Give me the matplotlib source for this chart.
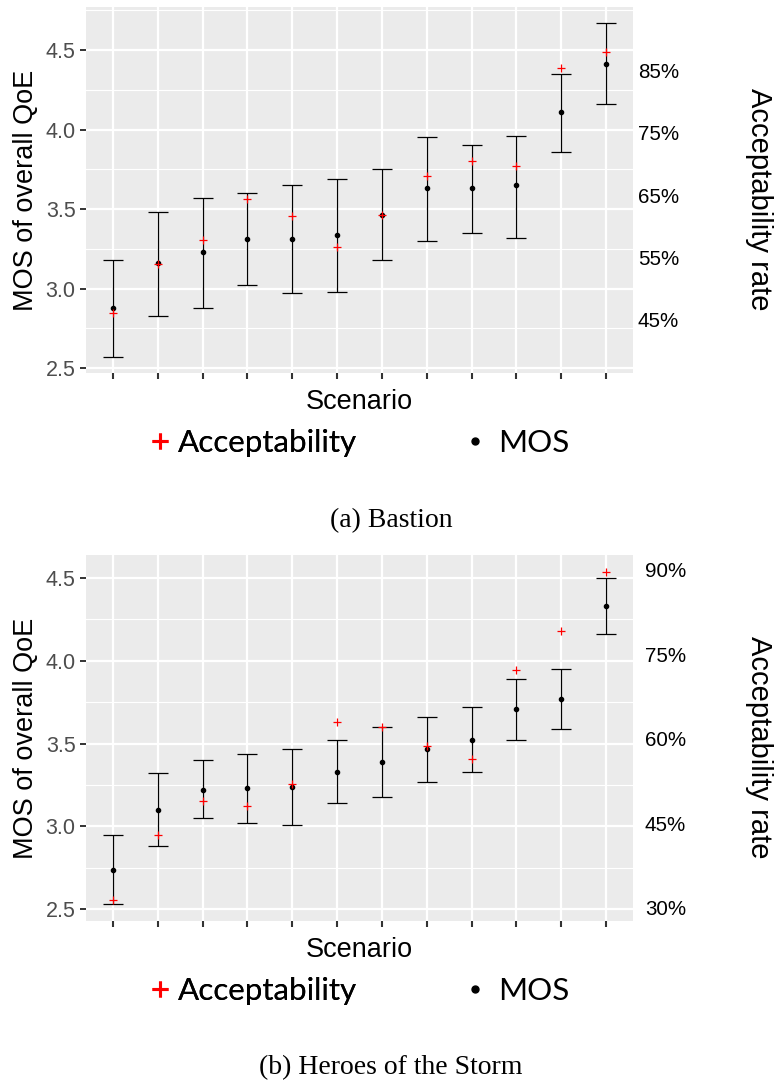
import matplotlib.pyplot as plt
import numpy as np
from matplotlib.lines import Line2D

scenarios = np.arange(1, 13)

# (a) Bastion
mos_a = [2.88, 3.16, 3.23, 3.31, 3.31, 3.34, 3.46, 3.63, 3.63, 3.65, 4.11, 4.41]
lo_a = [2.57, 2.83, 2.88, 3.02, 2.97, 2.98, 3.18, 3.30, 3.35, 3.32, 3.86, 4.16]
hi_a = [3.18, 3.48, 3.57, 3.60, 3.65, 3.69, 3.75, 3.95, 3.90, 3.96, 4.35, 4.67]
acc_a = [46.1, 53.9, 57.7, 64.3, 61.7, 56.6, 61.8, 68.1, 70.4, 69.6, 85.4, 88.0]
acc_ticks_a = [45, 55, 65, 75, 85]

# (b) Heroes of the Storm
mos_b = [2.74, 3.10, 3.22, 3.23, 3.24, 3.33, 3.39, 3.47, 3.52, 3.71, 3.77, 4.33]
lo_b = [2.53, 2.88, 3.05, 3.02, 3.01, 3.14, 3.18, 3.27, 3.33, 3.52, 3.59, 4.16]
hi_b = [2.95, 3.32, 3.40, 3.44, 3.47, 3.52, 3.60, 3.66, 3.72, 3.89, 3.95, 4.50]
acc_b = [31.4, 42.9, 49.0, 48.1, 51.9, 62.9, 62.0, 58.6, 56.4, 72.1, 79.0, 89.6]
acc_ticks_b = [30, 45, 60, 75, 90]

fig = plt.figure(figsize=(7.74, 10.84), dpi=100)
W, H = 774, 1084


def panel(top, ylim, mos, lo, hi, acc, acc_ticks, scale, offset, rpad, caption, cap_y):
    ax = fig.add_axes([86 / W, 1 - (top + 366) / H, 547 / W, 366 / H])
    ax.set_facecolor('#EBEBEB')
    for s in ax.spines.values():
        s.set_visible(False)
    ax.set_xticks(scenarios)
    ax.set_xticklabels([])
    ax.set_yticks([2.5, 3.0, 3.5, 4.0, 4.5])
    ax.set_yticks(np.arange(2.25, 5.0, 0.5), minor=True)
    ax.set_xlim(0.4, 12.6)
    ax.set_ylim(*ylim)
    ax.grid(True, which='major', color='white', lw=1.6)
    ax.grid(True, which='minor', axis='y', color='white', lw=0.8)
    ax.set_axisbelow(True)
    ax.tick_params(axis='y', which='major', length=4.5, width=1.4, color='#333333',
                   labelcolor='#4D4D4D', labelsize=15.5, pad=3)
    ax.tick_params(axis='y', which='minor', length=0)
    ax.tick_params(axis='x', length=4, width=1.5, color='#333333')
    for lab in ax.get_yticklabels():
        lab.set_fontfamily('Liberation Sans')

    mos = np.array(mos)
    ax.errorbar(scenarios, mos, yerr=[mos - np.array(lo), np.array(hi) - mos], fmt='none',
                ecolor='black', elinewidth=0.9, capsize=7, capthick=0.9, zorder=3)
    ax.scatter(scenarios, mos, s=9, color='black', zorder=4)
    acc_mos = offset + scale * np.array(acc)
    ax.scatter(scenarios, acc_mos, marker='+', s=40, color='red', linewidths=0.9, zorder=5)

    ax.set_ylabel('MOS of overall QoE', fontsize=19.5, fontfamily='Liberation Sans', labelpad=5)
    ax.set_xlabel('Scenario', fontsize=19.5, fontfamily='Liberation Sans', labelpad=4)

    sec = ax.secondary_yaxis('right', functions=(lambda m: (m - offset) / scale,
                                                 lambda a: offset + scale * a))
    sec.set_yticks(acc_ticks)
    sec.set_yticklabels(['%d%%' % t for t in acc_ticks])
    for s in sec.spines.values():
        s.set_visible(False)
    sec.tick_params(length=0, labelsize=14.8, pad=rpad)
    for lab in sec.get_yticklabels():
        lab.set_fontfamily('Liberation Sans')
    fig.text(759 / W, 1 - (top + 192) / H, 'Acceptability rate', rotation=-90,
             ha='center', va='center', fontsize=21, fontfamily='Liberation Sans')

    # legend, one entry per box so each can be placed like the original
    ly = 1 - (top + 436) / H
    h_acc = Line2D([], [], ls='none', marker='+', color='red', markersize=11, mew=2.2)
    h_mos = Line2D([], [], ls='none', marker='o', color='black', markersize=5)
    leg1 = fig.legend([h_acc], ['Acceptability'], loc='center left', frameon=False,
                      bbox_to_anchor=(150.5 / W, ly), prop={'family': 'Lato', 'size': 22.6},
                      handlelength=0.6, handletextpad=0.27, borderpad=0, borderaxespad=0)
    fig.add_artist(leg1)
    fig.legend([h_mos], ['MOS'], loc='center left', frameon=False,
               bbox_to_anchor=(465.5 / W, ly), prop={'family': 'Lato', 'size': 22.6},
               handlelength=0.6, handletextpad=0.43, borderpad=0, borderaxespad=0)
    fig.text(391 / W, 1 - cap_y / H, caption, ha='center', va='center',
             fontsize=20, fontfamily='Liberation Serif')
    return ax


panel(7, (2.47, 4.77), mos_a, lo_a, hi_a, acc_a, acc_ticks_a, 0.0391, 1.047, 3.5,
      '(a) Bastion', 521)
panel(555, (2.43, 4.637), mos_b, lo_b, hi_b, acc_b, acc_ticks_b, 0.034, 1.490, 8.5,
      '(b) Heroes of the Storm', 1068)

fig.savefig('out.png', dpi=100)
